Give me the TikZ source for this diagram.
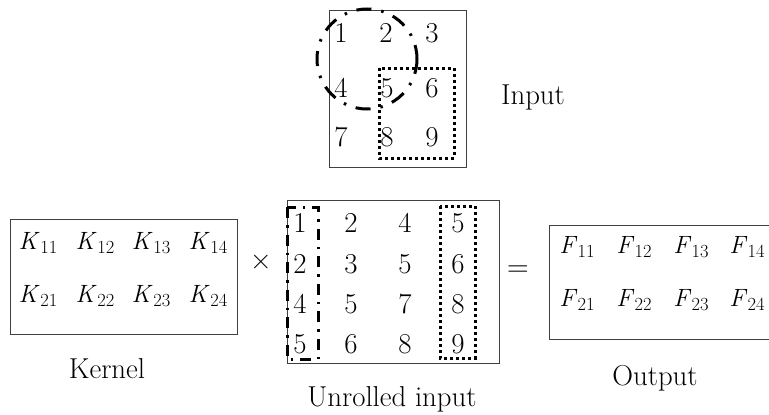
\documentclass[tikz,border=0pt]{standalone}
\newcommand{\mysub}[2]{\textit{#1}\kern0.5pt\raisebox{-4.5pt}{\fontsize{18.5}{22}\selectfont #2}}
\begin{document}
\begin{tikzpicture}[x=1pt,y=-1pt,
  box/.style={draw=black!75,line width=1pt},
  num/.style={inner sep=0pt,font=\fontsize{28.8}{34}\selectfont},
  ent/.style={inner sep=0pt,font=\fontsize{25}{29}\selectfont},
  lbl/.style={inner sep=0pt,font=\fontsize{28.8}{34}\selectfont},
  op/.style={inner sep=0pt,font=\fontsize{30}{34}\selectfont},
  dotbox/.style={draw,line width=3pt,dash pattern=on 3pt off 3pt},
  dashdotline/.style={draw,line width=3pt,dash pattern=on 15pt off 10pt on 2.5pt off 10pt},
  dashdotbox/.style={draw,line width=3pt,dash pattern=on 11pt off 7pt on 2.5pt off 7pt}]
\useasboundingbox (0,0) rectangle (769,415);

% Input
\draw[box] (329,10) rectangle (466,167);
\node[num] (i1) at (341,33) {1};
\node[num] (i2) at (386,33) {2};
\node[num] (i3) at (432,33) {3};
\node[num] (i4) at (341,88) {4};
\node[num] (i5) at (387,88) {5};
\node[num] (i6) at (432,88) {6};
\node[num] (i7) at (341,137) {7};
\node[num] (i8) at (387,137) {8};
\node[num] (i9) at (432,137) {9};
\draw[dotbox] (379,68) rectangle (454,158);
\draw[dashdotline] (367,59) circle (50);
\node[lbl] (inlbl) at (533,97) {Input};

% Kernel
\draw[box] (10,219) rectangle (237,334);
\node[ent] (k11) at (38,243) {\mysub{K}{11}};
\node[ent] (k12) at (95,243) {\mysub{K}{12}};
\node[ent] (k13) at (151,243) {\mysub{K}{13}};
\node[ent] (k14) at (208,243) {\mysub{K}{14}};
\node[ent] (k21) at (38,296) {\mysub{K}{21}};
\node[ent] (k22) at (95,296) {\mysub{K}{22}};
\node[ent] (k23) at (151,296) {\mysub{K}{23}};
\node[ent] (k24) at (208,296) {\mysub{K}{24}};
\node[lbl] (klbl) at (107,369) {Kernel};

\node[op] (times) at (261,262) {×};

% Unrolled input
\draw[box] (287,200) rectangle (499,363);
\foreach \r/\y/\a/\b/\c/\d in {1/223/1/2/4/5, 2/264/2/3/5/6, 3/304/4/5/7/8, 4/344/5/6/8/9}{
  \node[num] (u\r a) at (300,\y) {\a};
  \node[num] (u\r b) at (351,\y) {\b};
  \node[num] (u\r c) at (405,\y) {\c};
  \node[num] (u\r d) at (458,\y) {\d};
}
\draw[dashdotbox] (287,207) rectangle (318,359);
\draw[dotbox] (440,206) rectangle (475,358);
\node[lbl] (ulbl) at (392,399) {Unrolled input};

\node[op] (eq) at (518,271) {=};

% Output
\draw[box] (549,225) rectangle (800,339);
\node[ent] (f11) at (577,247) {\mysub{F}{11}};
\node[ent] (f12) at (634,247) {\mysub{F}{12}};
\node[ent] (f13) at (691,247) {\mysub{F}{13}};
\node[ent] (f14) at (747,247) {\mysub{F}{14}};
\node[ent] (f21) at (577,300) {\mysub{F}{21}};
\node[ent] (f22) at (634,300) {\mysub{F}{22}};
\node[ent] (f23) at (691,300) {\mysub{F}{23}};
\node[ent] (f24) at (747,300) {\mysub{F}{24}};
\node[lbl] (olbl) at (655,378) {Output};
\end{tikzpicture}
\end{document}
